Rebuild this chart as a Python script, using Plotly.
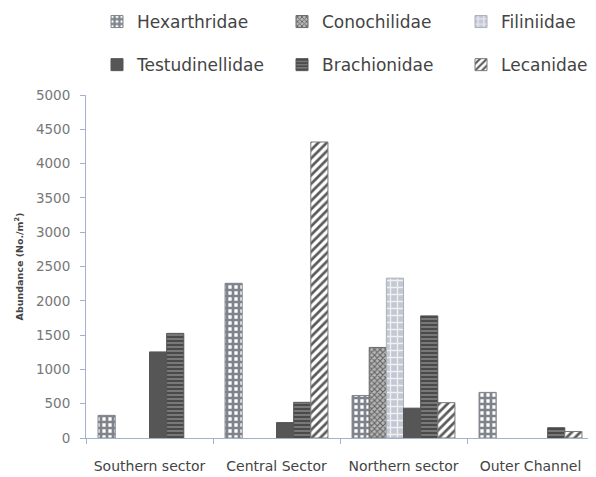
import plotly.graph_objects as go

categories = ["Southern sector", "Central Sector", "Northern sector", "Outer Channel"]
hexarthridae = [330, 2255, 620, 665]
conochilidae = [0, 0, 1320, 0]
filiniidae = [0, 0, 2330, 0]
testudinellidae = [1255, 225, 435, 0]
brachionidae = [1525, 520, 1780, 150]
lecanidae = [0, 4315, 515, 95]
y_ticks = [0, 500, 1000, 1500, 2000, 2500, 3000, 3500, 4000, 4500, 5000]

FONT = "DejaVu Sans"
series = [
    ("Hexarthridae", hexarthridae, dict(shape="+", fgcolor="#7f848c", bgcolor="#ffffff", size=6, solidity=0.7), "#7f848c", "legend"),
    ("Conochilidae", conochilidae, dict(shape="x", fgcolor="#5e5e5e", bgcolor="#b8b8b8", size=4, solidity=0.45), "#6a6a6a", "legend2"),
    ("Filiniidae", filiniidae, dict(shape="+", fgcolor="#eef0f4", bgcolor="#c3c8d2", size=7, solidity=0.35), "#aab0bb", "legend3"),
    ("Testudinellidae", testudinellidae, None, "#565656", "legend"),
    ("Brachionidae", brachionidae, dict(shape="-", fgcolor="#3e3e3e", bgcolor="#787878", size=4, solidity=0.4), "#555555", "legend2"),
    ("Lecanidae", lecanidae, dict(shape="/", fgcolor="#5a5a5a", bgcolor="#ffffff", size=6, solidity=0.45), "#7a7a7a", "legend3"),
]

fig = go.Figure()
for name, vals, pat, lc, lg in series:
    marker = dict(color="#565656" if pat is None else pat["bgcolor"], line=dict(color=lc, width=1))
    if pat is not None:
        marker["pattern"] = dict(fillmode="replace", **pat)
    fig.add_trace(go.Bar(name=name, x=categories, y=[v if v else None for v in vals],
                         marker=marker, legend=lg, legendgroup=name))

# page is rendered with an 8px body offset; plot area spans page x 86..594, y 95..438
def px_to_x(px):
    return (px - 86) / 508.0

def px_to_y(py):
    return (438 - py) / 343.0

leg_common = dict(orientation="v", tracegroupgap=18,
                  font=dict(family=FONT, size=17, color="#444444"),
                  xanchor="left", yanchor="top", y=px_to_y(4), bgcolor="rgba(0,0,0,0)",
                  traceorder="grouped", itemclick=False)

fig.update_layout(
    width=588, height=469,
    margin=dict(l=78, r=2, t=87, b=39, autoexpand=False),
    paper_bgcolor="white", plot_bgcolor="white",
    barmode="group", bargap=0.19, bargroupgap=0,
    font=dict(family=FONT, color="#444444"),
    legend=dict(x=px_to_x(97), **leg_common),
    legend2=dict(x=px_to_x(282), **leg_common),
    legend3=dict(x=px_to_x(461), **leg_common),
    xaxis=dict(showline=True, linecolor="#9fb3cf", linewidth=1, ticks="outside",
               tickson="boundaries", ticklen=5, tickcolor="#9fb3cf",
               ticklabelstandoff=15, tickangle=0,
               tickfont=dict(family=FONT, size=14, color="#444444")),
    yaxis=dict(range=[0, 5000], tickvals=y_ticks, showline=True, linecolor="#9fb3cf",
               linewidth=1, ticks="outside", ticklen=5, tickcolor="#9fb3cf",
               showgrid=False, zeroline=False, ticklabelstandoff=7,
               tickfont=dict(family=FONT, size=13.5, color="#777777"),
               title=dict(text="<b>Abundance (No./m<sup>2</sup>)</b>", standoff=10,
                          font=dict(family=FONT, size=9.5, color="#444444"))),
)

fig.write_html("out.html")
